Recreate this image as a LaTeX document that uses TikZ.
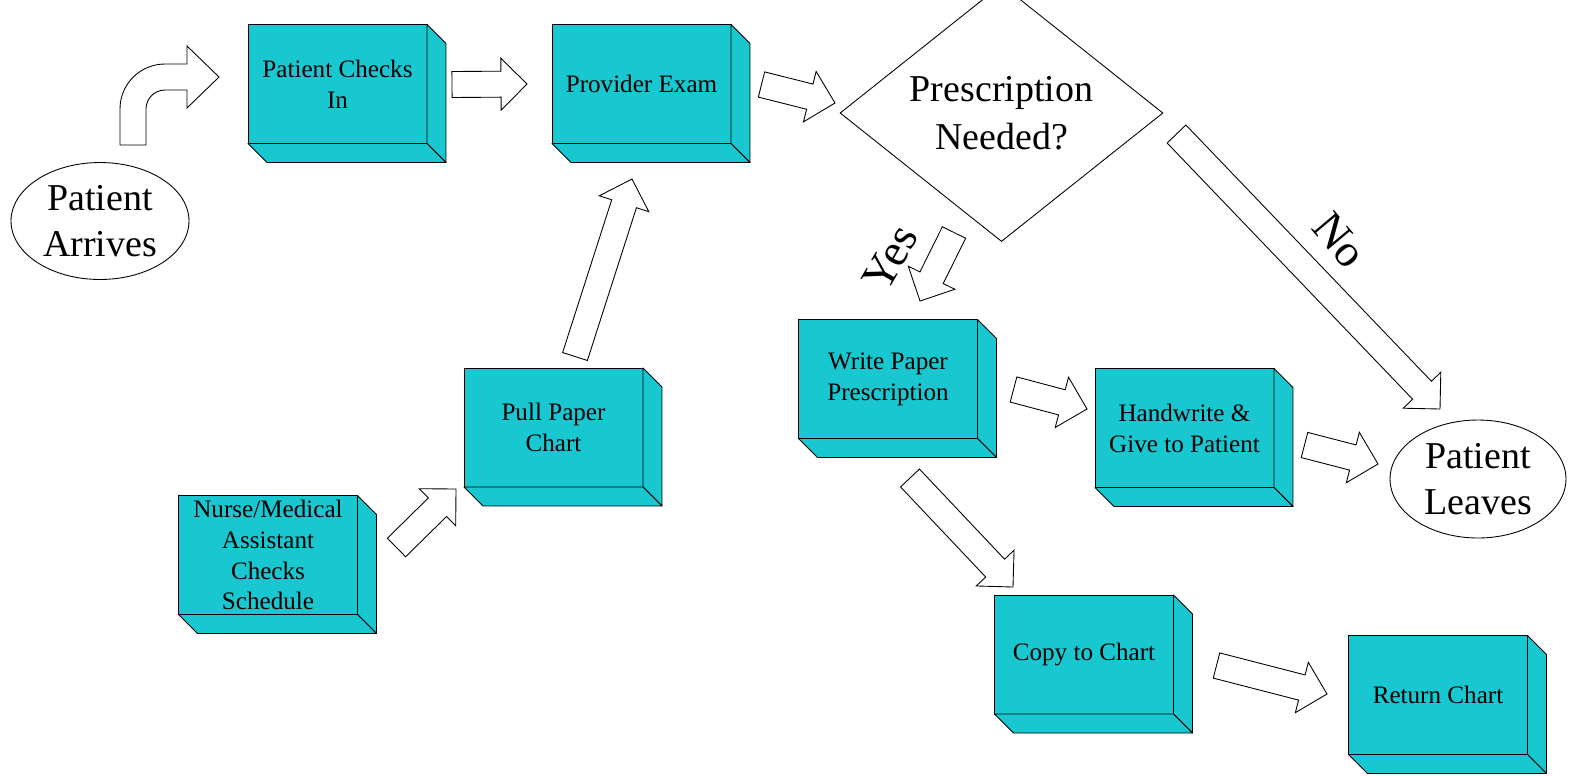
\documentclass[tikz,border=0pt]{standalone}
\usepackage{fontspec}
\setmainfont{Liberation Serif}
\usetikzlibrary{calc}
\usetikzlibrary{shapes.geometric}
\definecolor{boxcyan}{RGB}{25,199,208}
\tikzset{cube/.style = {draw, fill = boxcyan, minimum width = 3.58cm, minimum height = 2.38cm, inner sep = 0, outer sep = 0, align = center, font = \fontsize{14.3}{17.6}\selectfont}}
\tikzset{side/.style = {draw, fill = boxcyan, line join = round}}
\tikzset{oval/.style = {draw, ellipse, minimum width = 3.56cm, minimum height = 2.34cm, inner sep = 0, align = center, font = \fontsize{21.6}{26.2}\selectfont}}
\tikzset{big/.style = {font = \fontsize{26}{30}\selectfont}}
\tikzset{fat/.style = {draw, fill = white, line join = miter, to path = {
  ($(\tikztostart)!0.26cm!-90:(\tikztotarget)$)
  -- ($(\tikztotarget)!0.52cm!(\tikztostart)!0.26cm!-90:(\tikztotarget)$)
  -- ($(\tikztotarget)!0.52cm!(\tikztostart)!0.52cm!-90:(\tikztotarget)$)
  -- (\tikztotarget)
  -- ($(\tikztotarget)!0.52cm!(\tikztostart)!0.52cm!90:(\tikztotarget)$)
  -- ($(\tikztotarget)!0.52cm!(\tikztostart)!0.26cm!90:(\tikztotarget)$)
  -- ($(\tikztostart)!0.26cm!90:(\tikztotarget)$) -- cycle}}}
\newcommand{\cubesides}[1]{%
  \draw[side] (#1.north east) -- ++(19, 19) -- ($(#1.south east) + (19, 19)$) -- (#1.south east) -- cycle;
  \draw[side] (#1.south west) -- ++(19, 19) -- ($(#1.south east) + (19, 19)$) -- (#1.south east) -- cycle;}

\begin{document}
\begin{tikzpicture}[x = 0.02cm, y = -0.02cm, line width = 0.5pt]
  \useasboundingbox (0, 0) rectangle (1572, 775);

  % start and end
  \node[oval] (arrives) at (100, 221) {Patient\\Arrives};
  \node[oval, minimum width = 3.52cm, minimum height = 2.36cm] (leaves) at (1478, 479) {Patient\\Leaves};
  \node[draw, diamond, minimum width = 6.46cm, minimum height = 4.28cm, inner sep = 0, align = center,
    font = \fontsize{21.6}{27.3}\selectfont] (need) at (1001.5, 113) {Prescription\\Needed?};

  % steps
  \node[cube] (checks) at (337.5, 84) {Patient Checks\\In};
  \node[cube] (exam) at (641.5, 84) {Provider Exam};
  \node[cube] (pull) at (553.5, 427.5) {Pull Paper\\Chart};
  \node[cube] (nurse) at (268, 555) {Nurse/Medical\\Assistant\\Checks\\Schedule};
  \node[cube] (write) at (888, 379) {Write Paper\\Prescription};
  \node[cube] (hand) at (1184.5, 428) {Handwrite \&\\Give to Patient};
  \node[cube] (copy) at (1084, 654.5) {Copy to Chart};
  \node[cube] (ret) at (1438, 695) {Return Chart};
  \foreach \b in {checks, exam, pull, nurse, write, hand, copy, ret} {
    \cubesides{\b}
  }

  \node[big, rotate = 60] (yes) at (890, 258) {Yes};
  \node[big, rotate = -50] (no) at (1340, 240) {No};

  % arrow ends
  \coordinate (t1) at (452, 84.5);   \coordinate (h1) at (527, 84);
  \coordinate (t2) at (761.5, 84.5); \coordinate (h2) at (835, 103);
  \coordinate (t3) at (575, 356.5);  \coordinate (h3) at (632, 179);
  \coordinate (t4) at (396.5, 547.5);\coordinate (h4) at (456, 489);
  \coordinate (t5) at (954, 232.5);  \coordinate (h5) at (920, 301);
  \coordinate (t6) at (1176.5, 134); \coordinate (h6) at (1440, 409);
  \coordinate (t7) at (1013.5, 389.5); \coordinate (h7) at (1087, 409);
  \coordinate (t8) at (1304.5, 445); \coordinate (h8) at (1378, 464);
  \coordinate (t9) at (910, 478);    \coordinate (h9) at (1013, 587);
  \coordinate (t10) at (1216.5, 665.5); \coordinate (h10) at (1327, 694);
  \foreach \i in {1, ..., 10}
    \draw[fat] (t\i) to (h\i);

  % bent arrow
  \draw[fill = white] (120, 145) -- (120, 109) .. controls (120, 84.1) and (140.1, 64) .. (165, 64)
    -- (187, 64) -- (187, 46) -- (219, 77) -- (187, 108) -- (187, 90) -- (165, 90)
    .. controls (154.5, 90) and (146, 98.5) .. (146, 109) -- (146, 145) -- cycle;
\end{tikzpicture}
\end{document}
